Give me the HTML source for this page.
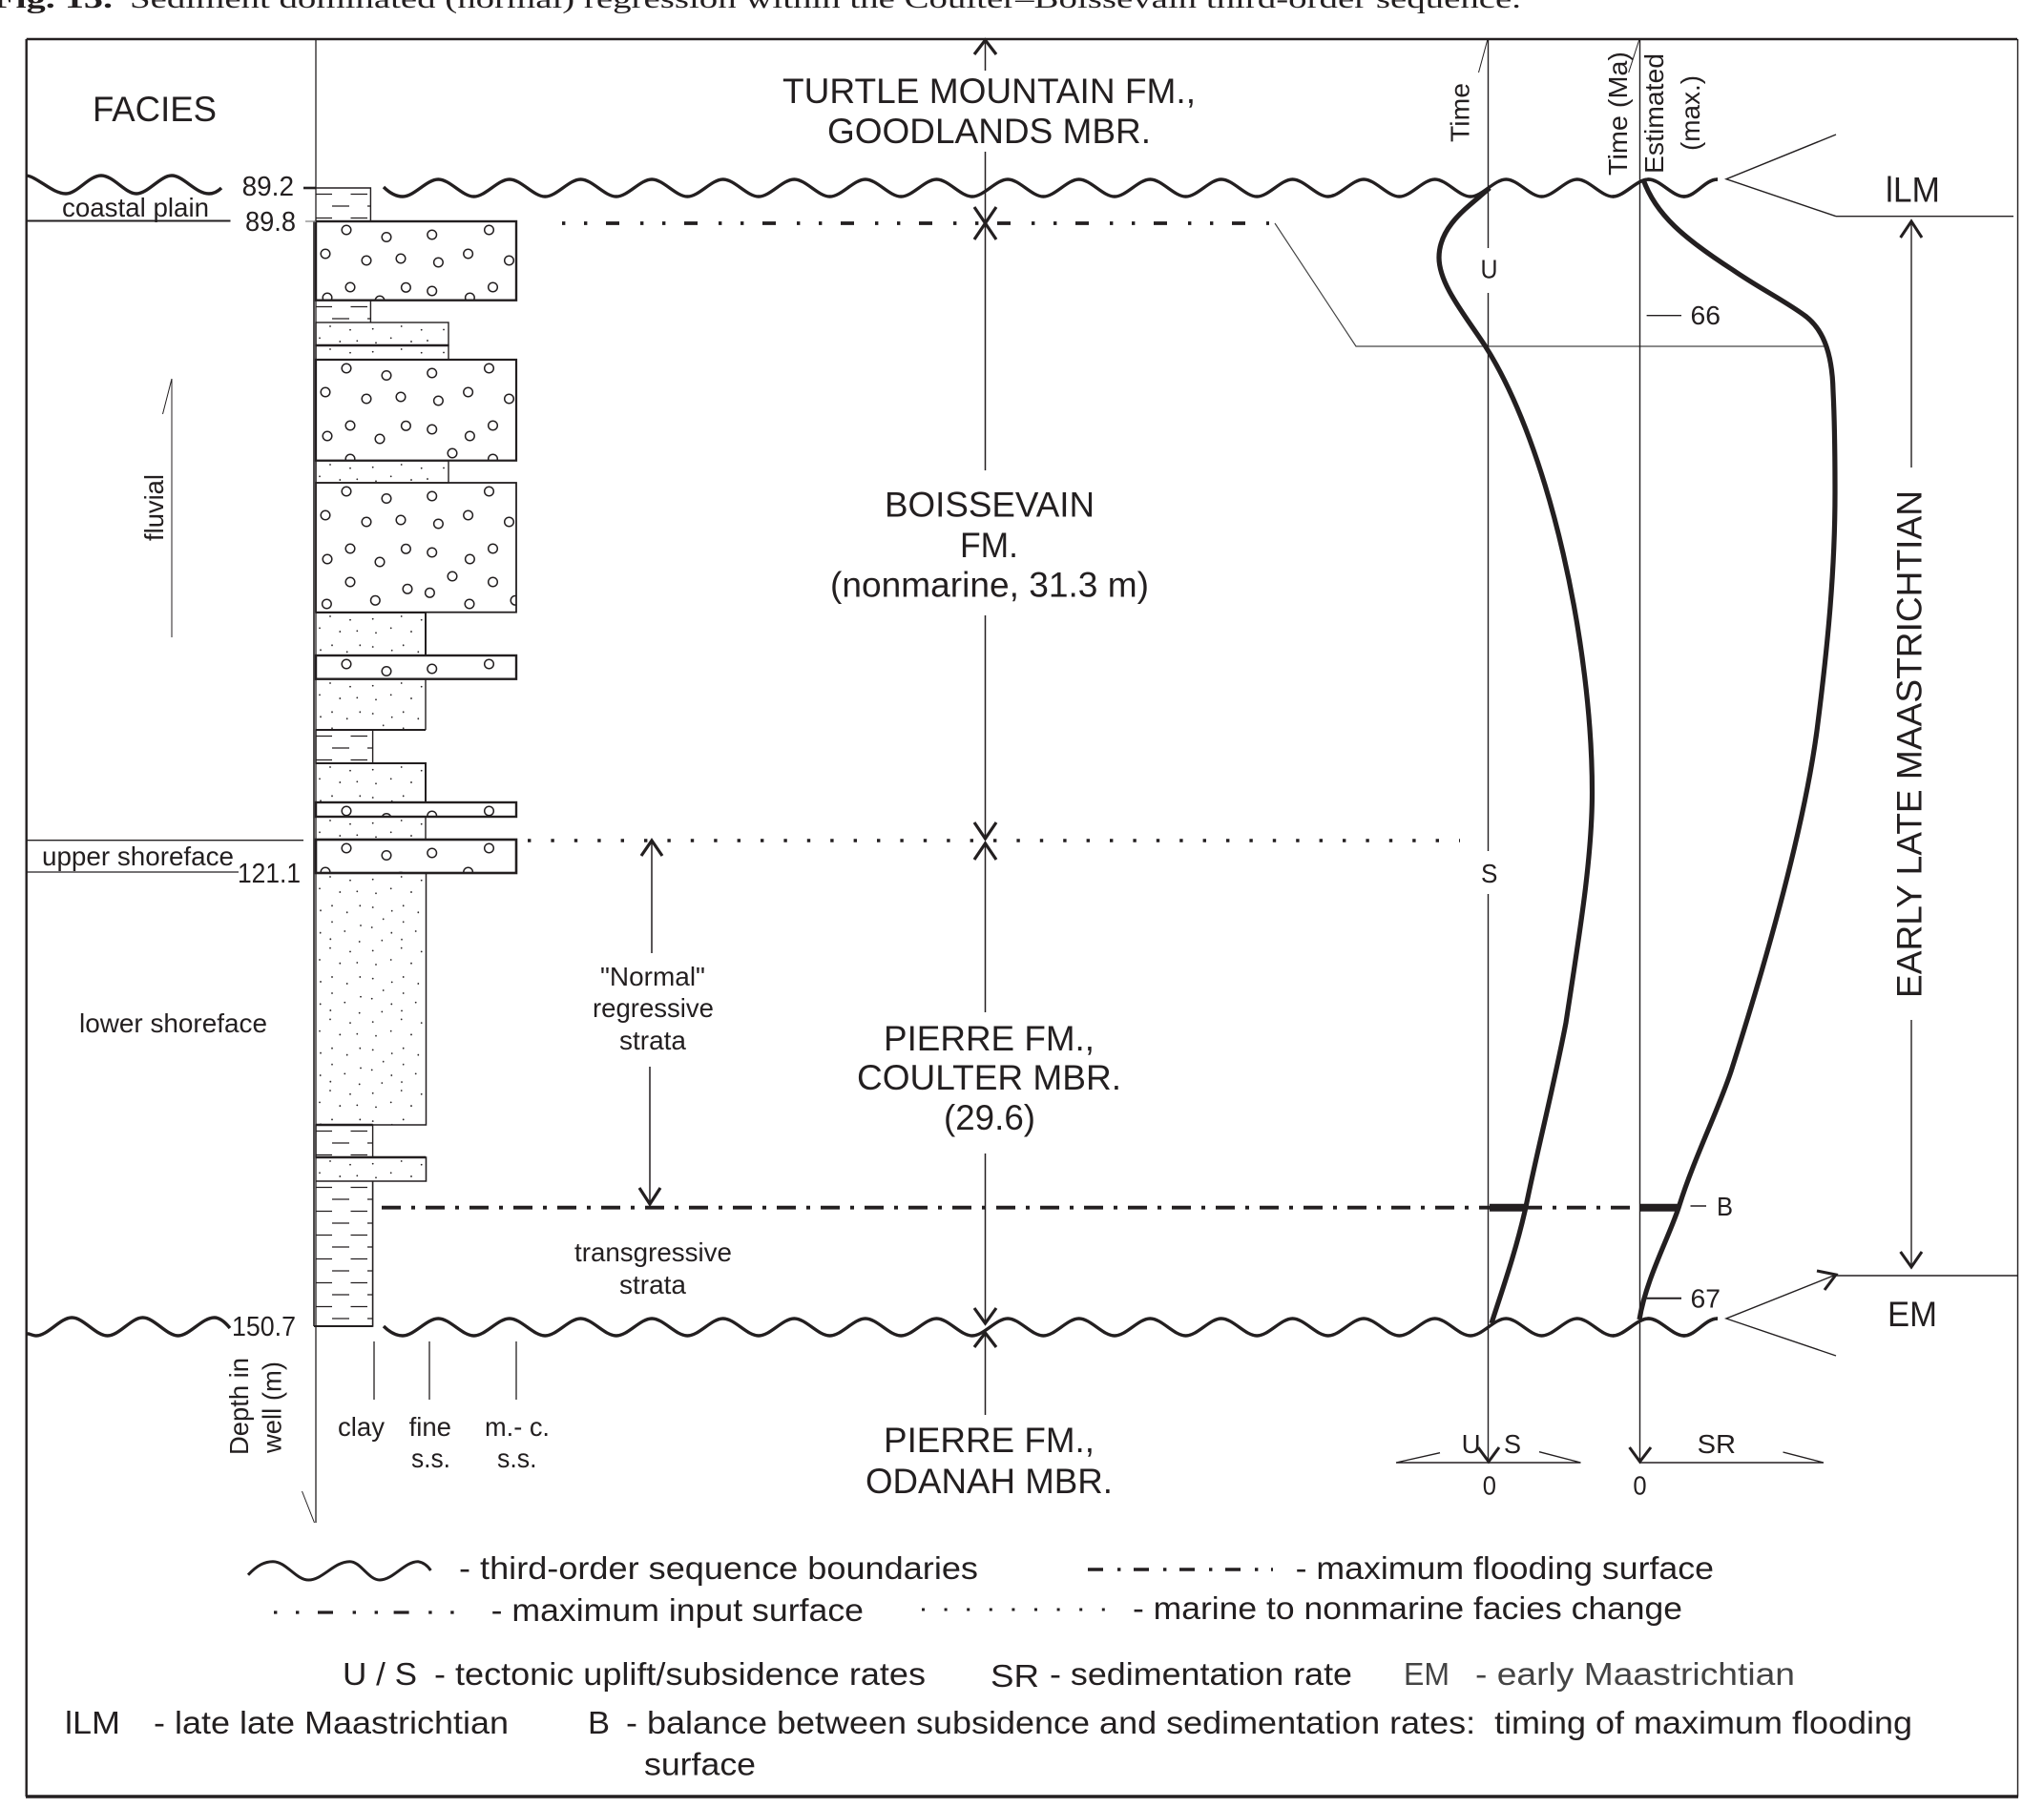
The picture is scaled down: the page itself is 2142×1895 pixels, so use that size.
<!DOCTYPE html>
<html><head><meta charset="utf-8"><title>Fig. 13</title>
<style>
html,body{margin:0;padding:0;background:#fff;width:2142px;height:1895px;overflow:hidden}
svg{display:block}
text{font-family:"Liberation Sans",sans-serif;fill:#231f20}
</style></head><body>
<svg xmlns="http://www.w3.org/2000/svg" width="2142" height="1895" viewBox="0 0 2142 1895">
<defs>
<pattern id="sand" patternUnits="userSpaceOnUse" width="140" height="74.7">
<g fill="#231f20">
<circle cx="15" cy="4" r=".9"/><circle cx="36" cy="7.7" r=".9"/><circle cx="59.7" cy="6.7" r=".9"/><circle cx="89.7" cy="4" r=".9"/><circle cx="110.7" cy="7.7" r=".9"/><circle cx="134" cy="7.5" r=".9"/>
<circle cx="4" cy="16.3" r=".9"/><circle cx="25.3" cy="20" r=".9"/><circle cx="43.3" cy="19.3" r=".9"/><circle cx="63" cy="21.3" r=".9"/><circle cx="78.7" cy="16.3" r=".9"/><circle cx="100" cy="20" r=".9"/><circle cx="117" cy="19" r=".9"/>
<circle cx="17" cy="34.3" r=".9"/><circle cx="46.3" cy="34.3" r=".9"/><circle cx="59.7" cy="36" r=".9"/><circle cx="91.7" cy="34.3" r=".9"/>
<circle cx="5" cy="39.3" r=".9"/><circle cx="32.7" cy="41.3" r=".9"/><circle cx="79.7" cy="39.7" r=".9"/><circle cx="107.3" cy="41.3" r=".9"/>
<circle cx="17" cy="51.3" r=".9"/><circle cx="70.7" cy="48.3" r=".9"/><circle cx="91.7" cy="51.3" r=".9"/><circle cx="47" cy="55" r=".9"/><circle cx="58.7" cy="57" r=".9"/>
<circle cx="4.7" cy="62.7" r=".9"/><circle cx="30.3" cy="61" r=".9"/><circle cx="79.3" cy="62.7" r=".9"/><circle cx="104.7" cy="61" r=".9"/>
<circle cx="15.3" cy="69.3" r=".9"/><circle cx="45.7" cy="72" r=".9"/><circle cx="69.3" cy="70.7" r=".9"/><circle cx="90" cy="69.7" r=".9"/>
</g></pattern>
<pattern id="clay" patternUnits="userSpaceOnUse" width="60" height="25">
<path d="M0 6.5H17M36.5 6.5H54M17 19H35M54 19H60" stroke="#231f20" stroke-width="1.2" fill="none"/>
</pattern>
<g id="pb" fill="none" stroke="#231f20" stroke-width="1.5">
<circle cx="32" cy="9" r="4.8"/><circle cx="74" cy="16.5" r="4.8"/><circle cx="121.7" cy="14" r="4.8"/><circle cx="181.5" cy="9" r="4.8"/>
<circle cx="10" cy="34" r="4.8"/><circle cx="53" cy="41" r="4.8"/><circle cx="89" cy="39" r="4.8"/><circle cx="128.4" cy="43" r="4.8"/><circle cx="159.6" cy="34" r="4.8"/><circle cx="202.5" cy="41" r="4.8"/>
<circle cx="36" cy="69" r="4.8"/><circle cx="94.4" cy="69.3" r="4.8"/><circle cx="121.7" cy="73" r="4.8"/><circle cx="185.5" cy="69" r="4.8"/>
<circle cx="12" cy="80" r="4.8"/><circle cx="67" cy="83" r="4.8"/><circle cx="161.4" cy="80" r="4.8"/>
<circle cx="36" cy="104" r="4.8"/><circle cx="96" cy="111.3" r="4.8"/><circle cx="119.4" cy="115.3" r="4.8"/><circle cx="143" cy="98" r="4.8"/><circle cx="185.5" cy="104" r="4.8"/>
<circle cx="11.4" cy="127" r="4.8"/><circle cx="62.3" cy="123.3" r="4.8"/><circle cx="161" cy="127" r="4.8"/><circle cx="209" cy="123.3" r="4.8"/>
</g>
<path id="wave" fill="none" stroke="#231f20" stroke-width="3.4" d="M402 196 Q412 206 422 206 c12 0 25 -18 37.3 -18 s25 18 37.3 18 s25 -18 37.3 -18 s25 18 37.3 18 s25 -18 37.3 -18 s25 18 37.3 18 s25 -18 37.3 -18 s25 18 37.3 18 s25 -18 37.3 -18 s25 18 37.3 18 s25 -18 37.3 -18 s25 18 37.3 18 s25 -18 37.3 -18 s25 18 37.3 18 s25 -18 37.3 -18 s25 18 37.3 18 s25 -18 37.3 -18 s25 18 37.3 18 s25 -18 37.3 -18 s25 18 37.3 18 s25 -18 37.3 -18 s25 18 37.3 18 s25 -18 37.3 -18 s25 18 37.3 18 s25 -18 37.3 -18 s25 18 37.3 18 s25 -18 37.3 -18 s25 18 37.3 18 s25 -18 37.3 -18 s25 18 37.3 18 s25 -18 37.3 -18 s25 18 37.3 18 s25 -18 37.3 -18 s25 18 37.3 18 s25 -18 37.3 -18 s25 18 37.3 18 s22 -18 35 -18"/>
</defs>

<rect width="2142" height="1895" fill="#fff"/>

<!-- caption -->
<text x="-8" y="8" font-size="28" font-weight="bold" textLength="126" lengthAdjust="spacingAndGlyphs" style="font-family:'Liberation Serif',serif">Fig. 13.</text>
<text x="136" y="8" font-size="28" textLength="1458" lengthAdjust="spacingAndGlyphs" style="font-family:'Liberation Serif',serif">Sediment dominated (normal) regression within the Coulter–Boissevain third-order sequence.</text>

<!-- frame -->
<g stroke="#231f20" fill="none">
<path d="M27.7 41H2114" stroke-width="2.6"/>
<path d="M27.7 41V1883" stroke-width="2.4"/>
<path d="M2114.5 41V1883" stroke-width="1.4"/>
<path d="M27 1883H2115" stroke-width="3.5"/>
</g>

<!-- sand -->
<svg x="331" y="338" width="139" height="24"><rect width="139" height="24" fill="url(#sand)"/></svg>
<svg x="331" y="362" width="139" height="15"><rect width="139" height="15" fill="url(#sand)"/></svg>
<svg x="331" y="483" width="139" height="23"><rect width="139" height="23" fill="url(#sand)"/></svg>
<svg x="331" y="642" width="115" height="45"><rect width="115" height="45" fill="url(#sand)"/></svg>
<svg x="331" y="712" width="115" height="53"><rect width="115" height="53" fill="url(#sand)"/></svg>
<svg x="331" y="800" width="115" height="41"><rect width="115" height="41" fill="url(#sand)"/></svg>
<svg x="331" y="856" width="115" height="24"><rect width="115" height="24" fill="url(#sand)"/></svg>
<svg x="331" y="915" width="115" height="264"><rect width="115" height="264" fill="url(#sand)"/></svg>
<svg x="331" y="1213" width="115" height="25"><rect width="115" height="25" fill="url(#sand)"/></svg>
<!-- clay -->
<svg x="331" y="197" width="57" height="35"><rect width="57" height="35" fill="url(#clay)"/></svg>
<svg x="331" y="315" width="57" height="23"><rect width="57" height="23" fill="url(#clay)"/></svg>
<svg x="331" y="765" width="59" height="35"><rect width="59" height="35" fill="url(#clay)"/></svg>
<svg x="331" y="1179" width="59" height="34"><rect width="59" height="34" fill="url(#clay)"/></svg>
<svg x="331" y="1238" width="59" height="152"><rect width="59" height="152" fill="url(#clay)"/></svg>
<!-- conglomerate -->
<svg x="331" y="232" width="210" height="83"><use href="#pb"/></svg>
<svg x="331" y="377" width="210" height="106"><use href="#pb"/></svg>
<svg x="331" y="506" width="210" height="136"><use href="#pb"/></svg>
<svg x="331" y="687" width="210" height="25"><use href="#pb"/></svg>
<svg x="331" y="841" width="210" height="15"><use href="#pb"/></svg>
<svg x="331" y="880" width="210" height="35"><use href="#pb"/></svg>

<!-- lithology outlines -->
<g fill="none" stroke="#231f20">
<path d="M318 197H388.4V232" stroke-width="1.4"/>
<path d="M318 197H331" stroke-width="2.6"/>
<rect x="331" y="232" width="210" height="82.7" stroke-width="2.4"/>
<path d="M388.4 315V338" stroke-width="1.4"/>
<rect x="331" y="338" width="139" height="24" stroke-width="1.4"/>
<path d="M331 362H470" stroke-width="2.4"/>
<rect x="331" y="362" width="139" height="15" stroke-width="1.4"/>
<rect x="331" y="377" width="210" height="105.7" stroke-width="2.2"/>
<rect x="331" y="483" width="139" height="23" stroke-width="1.4"/>
<rect x="331" y="506" width="210" height="135.7" stroke-width="1.8"/>
<path d="M331 642H446V687" stroke-width="2"/>
<rect x="331" y="687" width="210" height="24.7" stroke-width="2.4"/>
<path d="M446 712V765" stroke-width="1.4"/>
<path d="M331 765H446" stroke-width="2"/>
<rect x="331" y="765" width="59.6" height="35" stroke-width="1.4"/>
<path d="M331 800H446V841" stroke-width="2"/>
<rect x="331" y="841" width="210" height="15" stroke-width="2.4"/>
<path d="M446 856V880" stroke-width="1.4"/>
<rect x="331" y="880" width="210" height="35" stroke-width="2.6"/>
<path d="M446.5 915V1179H331" stroke-width="1.5"/>
<rect x="331" y="1179" width="59.6" height="34" stroke-width="1.4"/>
<path d="M331 1179H390.6" stroke-width="2.4"/>
<path d="M331 1213H446.5V1238H331" stroke-width="1.6"/>
<path d="M331 1213H446" stroke-width="2.4"/>
<path d="M390.6 1238V1390H331" stroke-width="1.6"/>
<path d="M329 232V1390" stroke-width="1.6"/>
<path d="M329 1390H390.6" stroke-width="2"/>
</g>

<!-- facies axis and lines -->
<g fill="none" stroke="#231f20" stroke-width="1.3">
<path d="M331 41V1596"/>
<path d="M316.5 1563L329.5 1596" stroke-width="1"/>
<path d="M180 397V668M170.5 434L180 397" stroke-width="1"/>
<path d="M28 231.5H241.5" stroke-width="2"/>
<path d="M320 232H331" stroke="#888"/>
<path d="M28 880.7H318"/>
<path d="M28 914H250"/>
<path d="M392 1406V1467M450 1406V1467M541 1406V1467"/>
</g>

<!-- waves -->
<use href="#wave"/>
<use href="#wave" y="1194"/>
<!-- explicit tail so the boundary reaches x=1800 -->
<g fill="none" stroke="#231f20" stroke-width="3.4">
<path d="M1690.2 206C1702 206 1715 188 1727.5 188C1740 188 1752 206 1764.8 206C1777 206 1787 188 1800 188"/>
<path d="M1690.2 1400C1702 1400 1715 1382 1727.5 1382C1740 1382 1752 1400 1764.8 1400C1777 1400 1787 1382 1800 1382"/>
<path d="M28 184C40 186 55 203 69 203c12 0 24 -19 37 -19s25 19 37 19s25 -19 37 -19s25 19 39 19Q226 203 232 197"/>
<path d="M28 1398L30 1398Q36 1400 38 1400c12 0 25 -19 37.3 -19s25 19 37.3 19s25 -19 37 -19s25 19 37 19s25 -19 38 -19Q232 1381 241 1392"/>
</g>

<!-- centre column -->
<g fill="none" stroke="#231f20" stroke-width="1.5">
<path d="M1032.5 42V74M1032.5 159V232M1032.5 236V493M1032.5 645V878M1032.5 882V1061M1032.5 1209V1386M1032.5 1398V1483"/>
<path d="M683 882V999M681 1118V1261"/>
</g>
<g fill="none" stroke="#231f20" stroke-width="3.2">
<path d="M1021 57L1032.5 42L1044 57"/>
<path d="M1021 217L1032.5 234L1044 217"/>
<path d="M1021 251L1032.5 234L1044 251"/>
<path d="M1021 862L1032.5 879L1044 862"/>
<path d="M1021 901L1032.5 884L1044 901"/>
<path d="M1021 1371L1032.5 1387L1044 1371"/>
<path d="M1021 1412L1032.5 1397L1044 1412"/>
<path d="M672 897L683 881L694 897"/>
<path d="M670 1245L681 1262L692 1245"/>
</g>

<!-- surfaces -->
<path d="M589 234H1330" fill="none" stroke="#231f20" stroke-width="3.8" stroke-dasharray="3.4 19.6 3.4 19.6 14 22"/>
<path d="M1336 234L1421 363H1916" fill="none" stroke="#444" stroke-width="1.2"/>
<path d="M553 881H1530" fill="none" stroke="#231f20" stroke-width="3.4" stroke-dasharray="3.4 21"/>
<path d="M400 1265.7H1718" fill="none" stroke="#231f20" stroke-width="3.8" stroke-dasharray="20 11 4 11"/>
<path d="M1561 1265.7H1599M1718.5 1265.7H1760" fill="none" stroke="#231f20" stroke-width="8"/>

<!-- right axes -->
<g fill="none" stroke="#231f20" stroke-width="1.4">
<path d="M1559.5 41V260M1559.5 307V892M1559.5 937V1533"/>
<path d="M1718.5 41V1533"/>
<path d="M1549.5 76L1559 41M1706.7 76L1718 41" stroke-width="1"/>
<path d="M1725.6 330.7H1762M1771.5 1264H1788"/>
<path d="M1725.6 1360.7H1762" stroke-width="2"/>
<path d="M1463 1533H1656.5M1463 1533L1509 1522.7M1656.5 1533L1613 1521.7"/>
<path d="M1718.5 1533H1911M1911 1533L1868.5 1522"/>
<path d="M1924 141L1809 187.7L1924 226.7M1924 226.7H2110" />
<path d="M1924 1336L1809 1382L1924 1421M1924 1337H2115"/>
<path d="M2003 233V490M2003 1069V1327"/>
</g>
<g fill="none" stroke="#231f20" stroke-width="3">
<path d="M1549 1517L1560 1532L1571 1517"/>
<path d="M1707.6 1517L1718.5 1532L1730 1517"/>
<path d="M1991.6 249L2003 232L2014 249"/>
<path d="M1991.6 1312L2003 1328L2014 1312"/>
<path d="M1904 1332L1924 1336L1912 1352"/>
</g>

<!-- curves -->
<g fill="none" stroke="#231f20" stroke-width="5.2">
<path d="M1561 197C1540 216 1508 236 1508 270C1508 298 1535 330 1556 362C1625 470 1668.5 680 1668.5 830C1668.5 900 1655 980 1641 1072C1628 1140 1610 1210 1599 1265C1589 1310 1575 1350 1563 1387"/>
<path d="M1722 188C1735 225 1765 250 1816 283C1845 303 1872 316 1893 332C1908 344 1920 365 1921 410C1923 450 1923 490 1923 516C1923 600 1915 680 1904 766C1890 870 1850 1010 1814 1123C1800 1165 1775 1215 1760 1263C1750 1295 1725 1340 1718 1383"/>
</g>

<!-- labels: centre -->
<g font-size="37">
<text x="820" y="108" textLength="433" lengthAdjust="spacingAndGlyphs">TURTLE MOUNTAIN FM.,</text>
<text x="867" y="150" textLength="339" lengthAdjust="spacingAndGlyphs">GOODLANDS MBR.</text>
<text x="927" y="541.5" textLength="220" lengthAdjust="spacingAndGlyphs">BOISSEVAIN</text>
<text x="1006" y="584" textLength="61" lengthAdjust="spacingAndGlyphs">FM.</text>
<text x="870" y="625.5" textLength="334" lengthAdjust="spacingAndGlyphs">(nonmarine, 31.3 m)</text>
<text x="926" y="1101" textLength="221" lengthAdjust="spacingAndGlyphs">PIERRE FM.,</text>
<text x="898" y="1142" textLength="277" lengthAdjust="spacingAndGlyphs">COULTER MBR.</text>
<text x="989" y="1184" textLength="96" lengthAdjust="spacingAndGlyphs">(29.6)</text>
<text x="926" y="1522" textLength="221" lengthAdjust="spacingAndGlyphs">PIERRE FM.,</text>
<text x="907" y="1565" textLength="259" lengthAdjust="spacingAndGlyphs">ODANAH MBR.</text>
<text x="97" y="127" textLength="130" lengthAdjust="spacingAndGlyphs">FACIES</text>
<text x="1976" y="211.7" textLength="57" lengthAdjust="spacingAndGlyphs">lLM</text>
<text x="1978" y="1390" textLength="52" lengthAdjust="spacingAndGlyphs">EM</text>
<text transform="translate(2013.5,1046) rotate(-90)" textLength="532" lengthAdjust="spacingAndGlyphs">EARLY LATE MAASTRICHTIAN</text>
</g>

<g font-size="27.5">
<text x="629" y="1033" textLength="110" lengthAdjust="spacingAndGlyphs">"Normal"</text>
<text x="621" y="1066" textLength="127" lengthAdjust="spacingAndGlyphs">regressive</text>
<text x="649" y="1100" textLength="70" lengthAdjust="spacingAndGlyphs">strata</text>
<text x="602" y="1322" textLength="165" lengthAdjust="spacingAndGlyphs">transgressive</text>
<text x="649" y="1356" textLength="70" lengthAdjust="spacingAndGlyphs">strata</text>
<text x="253.6" y="205" textLength="54.4" lengthAdjust="spacingAndGlyphs" font-size="29">89.2</text>
<text x="257" y="242" textLength="53" lengthAdjust="spacingAndGlyphs" font-size="29">89.8</text>
<text x="65" y="227" textLength="154" lengthAdjust="spacingAndGlyphs">coastal plain</text>
<text x="44" y="907" textLength="201" lengthAdjust="spacingAndGlyphs">upper shoreface</text>
<text x="249" y="925" textLength="66" lengthAdjust="spacingAndGlyphs" font-size="29">121.1</text>
<text x="83" y="1082" textLength="197" lengthAdjust="spacingAndGlyphs">lower shoreface</text>
<text x="243" y="1400" textLength="67" lengthAdjust="spacingAndGlyphs" font-size="29">150.7</text>
<text x="354" y="1505" textLength="49" lengthAdjust="spacingAndGlyphs">clay</text>
<text x="428.6" y="1505" textLength="44.4" lengthAdjust="spacingAndGlyphs">fine</text>
<text x="508" y="1505" textLength="68" lengthAdjust="spacingAndGlyphs">m.- c.</text>
<text x="431" y="1538" textLength="41" lengthAdjust="spacingAndGlyphs">s.s.</text>
<text x="521" y="1538" textLength="41.5" lengthAdjust="spacingAndGlyphs">s.s.</text>
<text transform="translate(260,1525) rotate(-90)" textLength="102" lengthAdjust="spacingAndGlyphs">Depth in</text>
<text transform="translate(294.6,1523) rotate(-90)" textLength="96" lengthAdjust="spacingAndGlyphs">well (m)</text>
<text transform="translate(171,567) rotate(-90)" textLength="70" lengthAdjust="spacingAndGlyphs">fluvial</text>
<text transform="translate(1539.6,149) rotate(-90)" textLength="62" lengthAdjust="spacingAndGlyphs">Time</text>
<text transform="translate(1705,184) rotate(-90)" textLength="130" lengthAdjust="spacingAndGlyphs">Time (Ma)</text>
<text transform="translate(1743,182) rotate(-90)" textLength="126" lengthAdjust="spacingAndGlyphs">Estimated</text>
<text transform="translate(1781,158) rotate(-90)" textLength="79" lengthAdjust="spacingAndGlyphs">(max.)</text>
<text x="1551.5" y="291.7" textLength="18" lengthAdjust="spacingAndGlyphs">U</text>
<text x="1552" y="925" textLength="17.4" lengthAdjust="spacingAndGlyphs">S</text>
<text x="1771.5" y="340" textLength="31.5" lengthAdjust="spacingAndGlyphs">66</text>
<text x="1771.5" y="1370.7" textLength="31.5" lengthAdjust="spacingAndGlyphs">67</text>
<text x="1799" y="1274" textLength="17" lengthAdjust="spacingAndGlyphs">B</text>
<text x="1531.6" y="1523" textLength="20" lengthAdjust="spacingAndGlyphs">U</text>
<text x="1576" y="1523" textLength="18" lengthAdjust="spacingAndGlyphs">S</text>
<text x="1778.6" y="1523" textLength="40.4" lengthAdjust="spacingAndGlyphs">SR</text>
<text x="1553.8" y="1566.7" textLength="14.2" lengthAdjust="spacingAndGlyphs">0</text>
<text x="1711.4" y="1566.7" textLength="14.2" lengthAdjust="spacingAndGlyphs">0</text>
</g>

<!-- legend -->
<path d="M260 1650.7C270 1640 278 1636.7 286 1636.7C300 1636.7 310 1656 323.4 1656C338 1656 350 1636.7 366.5 1636.7C378 1636.7 386 1656 398 1656C412 1656 424 1636.7 438 1636.7Q446 1638 451.4 1646" fill="none" stroke="#231f20" stroke-width="3"/>
<path d="M287 1690H478" fill="none" stroke="#231f20" stroke-width="3.2" stroke-dasharray="3.4 19.6 3.4 19.6 16 20.6 3.4 19.6 3.4 16.6 16 20.6 3.4 19.6 3.4"/>
<path d="M1140 1645H1334" fill="none" stroke="#231f20" stroke-width="3.4" stroke-dasharray="16 15 3.4 13.6"/>
<path d="M966 1687H1160" fill="none" stroke="#231f20" stroke-width="3" stroke-dasharray="3 20.6"/>
<g font-size="33">
<text x="481" y="1655" textLength="544" lengthAdjust="spacingAndGlyphs">- third-order sequence boundaries</text>
<text x="514.6" y="1699" textLength="390.4" lengthAdjust="spacingAndGlyphs">- maximum input surface</text>
<text x="1357.6" y="1655" textLength="438.4" lengthAdjust="spacingAndGlyphs">- maximum flooding surface</text>
<text x="1187" y="1697" textLength="576" lengthAdjust="spacingAndGlyphs">- marine to nonmarine facies change</text>
<text x="359" y="1766" textLength="78" lengthAdjust="spacingAndGlyphs">U / S</text>
<text x="455" y="1766" textLength="515" lengthAdjust="spacingAndGlyphs">- tectonic uplift/subsidence rates</text>
<text x="1038" y="1768" textLength="51" lengthAdjust="spacingAndGlyphs">SR</text>
<text x="1100" y="1766" textLength="317" lengthAdjust="spacingAndGlyphs">- sedimentation rate</text>
<text x="1471" y="1766" textLength="48" lengthAdjust="spacingAndGlyphs" style="fill:#444">EM</text>
<text x="1546" y="1766" textLength="335" lengthAdjust="spacingAndGlyphs" style="fill:#444">- early Maastrichtian</text>
<text x="68" y="1817" textLength="58" lengthAdjust="spacingAndGlyphs">lLM</text>
<text x="161" y="1817" textLength="372" lengthAdjust="spacingAndGlyphs">- late late Maastrichtian</text>
<text x="616" y="1817" textLength="23" lengthAdjust="spacingAndGlyphs">B</text>
<text x="656" y="1817" textLength="1348" lengthAdjust="spacingAndGlyphs" xml:space="preserve">- balance between subsidence and sedimentation rates:  timing of maximum flooding</text>
<text x="675" y="1860.6" textLength="117" lengthAdjust="spacingAndGlyphs">surface</text>
</g>
</svg>
</body></html>
